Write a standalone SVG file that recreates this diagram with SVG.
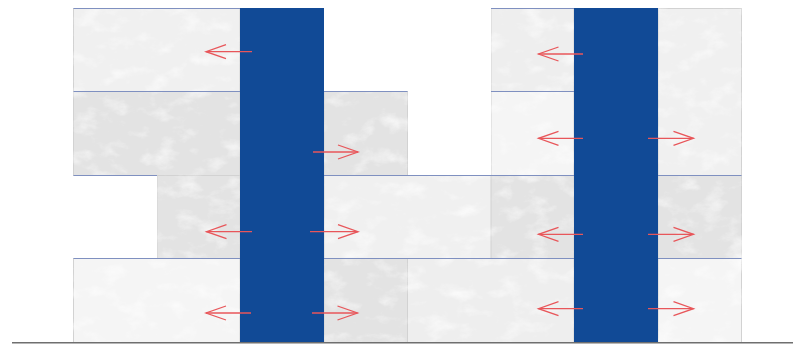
<svg xmlns="http://www.w3.org/2000/svg" width="793" height="346" viewBox="0 0 793 346">
<style>
.t{stroke:#d2d2d2;stroke-width:1;filter:url(#stone)}
.a{fill:#f0f0f0}.b{fill:#e3e3e3}.c{fill:#f5f5f5}.d{fill:#eeeeee}
.col{fill:#114a96}
.h{stroke:#7f90c0;stroke-width:1;fill:none}
.g{stroke:#6f6f6f;stroke-width:1.4;fill:none}
.r{stroke:#e8565a;stroke-width:1.3;fill:none;marker-end:url(#head)}
</style>
<defs>
<filter id="stone" x="0" y="0" width="100%" height="100%" color-interpolation-filters="sRGB">
<feTurbulence type="fractalNoise" baseFrequency="0.04 0.06" numOctaves="5" seed="11" result="n"/>
<feColorMatrix in="n" type="matrix" values="0 0 0 0 1 0 0 0 0 1 0 0 0 0 1 1.6 0 0 0 -0.8" result="w"/>
<feComposite in="w" in2="SourceGraphic" operator="in" result="wc"/>
<feMerge><feMergeNode in="SourceGraphic"/><feMergeNode in="wc"/></feMerge>
</filter>
<marker id="head" markerUnits="userSpaceOnUse" markerWidth="24" markerHeight="18" refX="21" refY="9" orient="auto">
<path d="M1 2 L21 9 L1 16" fill="none" stroke="#e8565a" stroke-width="1.3"/>
</marker>
</defs>
<g id="tile-r1-left"><rect class="t a" x="73.5" y="8.5" width="166.5" height="83"/></g>
<g id="tile-r2-left"><rect class="t b" x="73.5" y="91.5" width="166.5" height="84"/></g>
<g id="tile-r2-mid"><rect class="t b" x="324" y="91.5" width="83.5" height="84"/></g>
<g id="tile-r3-left"><rect class="t b" x="157" y="175.5" width="83" height="83"/></g>
<g id="tile-r3-mid"><rect class="t a" x="324" y="175.5" width="167" height="83"/></g>
<g id="tile-r4-left"><rect class="t c" x="73.5" y="258.5" width="166.5" height="84"/></g>
<g id="tile-r4-mid1"><rect class="t b" x="324" y="258.5" width="83.5" height="84"/></g>
<g id="tile-r4-mid2"><rect class="t d" x="407.5" y="258.5" width="166.5" height="84"/></g>
<g id="tile-r1-right"><rect class="t d" x="491" y="8.5" width="83" height="83"/></g>
<g id="tile-r2-right"><rect class="t c" x="491" y="91.5" width="83" height="84"/></g>
<g id="tile-r3-right"><rect class="t b" x="491" y="175.5" width="83" height="83"/></g>
<g id="tile-r12-far"><rect class="t a" x="658" y="8.5" width="83.5" height="167"/></g>
<g id="tile-r3-far"><rect class="t b" x="658" y="175.5" width="83.5" height="83"/></g>
<g id="tile-r4-far"><rect class="t c" x="658" y="258.5" width="83.5" height="84"/></g>
<g id="courses">
<path class="h" d="M73.5 8.5H240M491 8.5H574M73.5 91.5H240M324 91.5H407.5M491 91.5H574M73.5 175.5H157M324 175.5H741.5M73.5 258.5H240M324 258.5H741.5"/>
</g>
<g id="column-left"><rect class="col" x="240" y="8" width="84" height="335"/></g>
<g id="column-right"><rect class="col" x="574" y="8" width="84" height="335"/></g>
<g id="ground"><path class="g" d="M12 342.7H793"/></g>
<g id="connectors">
<path class="r" d="M252 51.7H206"/>
<path class="r" d="M313 152H358"/>
<path class="r" d="M252 231.7H206.5"/>
<path class="r" d="M310 231.7H358"/>
<path class="r" d="M251 313H206"/>
<path class="r" d="M312 313H357.5"/>
<path class="r" d="M583 54H538.5"/>
<path class="r" d="M583 138.3H538.5"/>
<path class="r" d="M648 138.3H693.5"/>
<path class="r" d="M583 234.3H538.5"/>
<path class="r" d="M648 234.3H693.5"/>
<path class="r" d="M583 308.7H538.5"/>
<path class="r" d="M648 308.7H693.5"/>
</g>
</svg>
